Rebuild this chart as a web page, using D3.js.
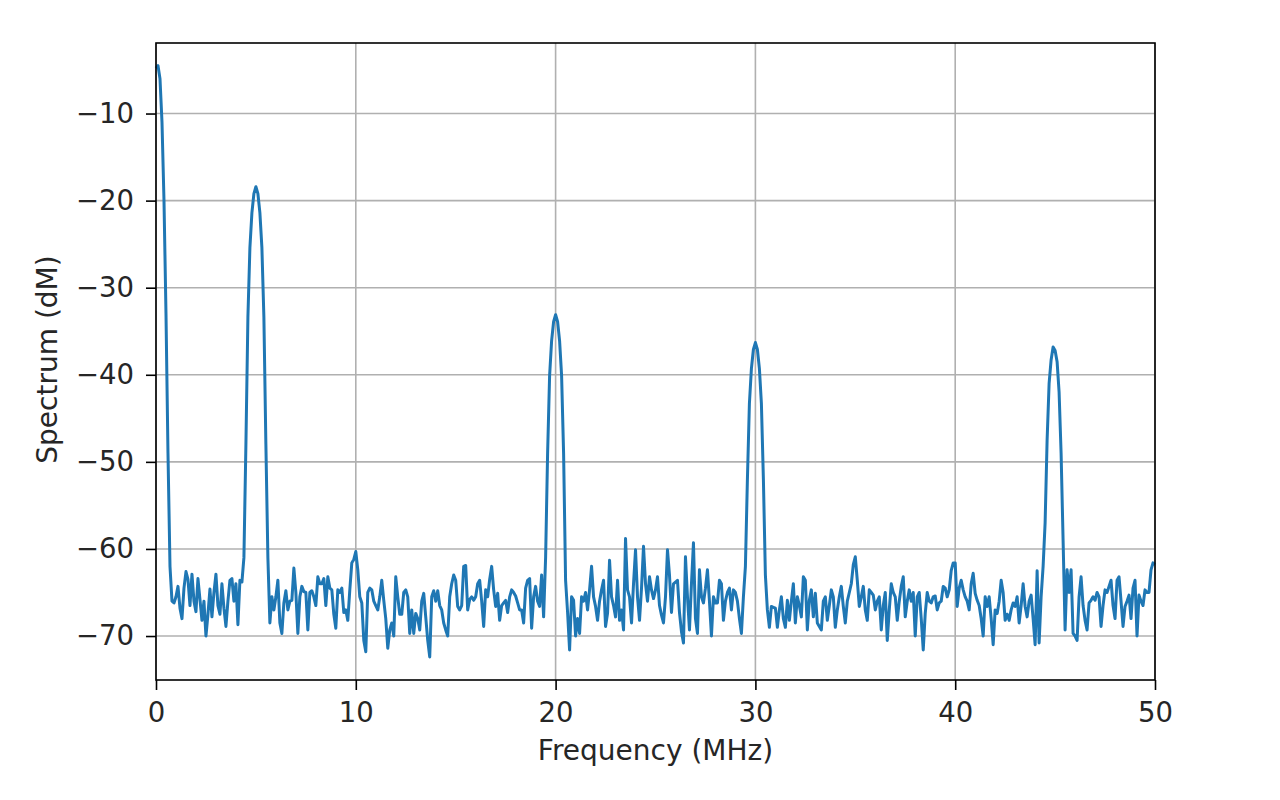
<!DOCTYPE html>
<html>
<head>
<meta charset="utf-8">
<script src="https://cdn.jsdelivr.net/npm/d3@7"></script>
<style>
  html, body { margin: 0; padding: 0; background: #ffffff; }
  svg { display: block; }
  text { font-family: "DejaVu Sans", sans-serif; fill: #262626; }
</style>
</head>
<body>
<svg id="chart" width="1280" height="800"></svg>
<script>
// Frequency grid (MHz): one sample every 0.1 MHz from 0 to 50
const freqStart = 0;
const freqStep = 0.1;

// Spectrum values (dM), rows of 1 MHz
const spectrum = [
  -4.8, -4.5, -6.0, -11.0, -20.0, -33.0, -49.0, -62.0, -66.0, -66.2,
  -65.5, -64.3, -66.8, -68.0, -64.5, -62.6, -63.5, -66.5, -62.9, -66.0,
  -67.2, -63.4, -65.8, -68.2, -66.0, -70.0, -67.5, -64.6, -67.8, -65.0,
  -62.9, -66.5, -67.5, -64.0, -66.8, -68.9, -66.0, -63.6, -63.4, -66.0,
  -64.0, -68.7, -63.6, -63.8, -61.0, -48.0, -33.4, -25.4, -21.4, -19.2,
  -18.4, -19.2, -21.4, -25.4, -33.4, -48.0, -61.0, -68.5, -65.5, -67.0,
  -65.5, -63.6, -68.5, -69.7, -66.2, -64.8, -67.0, -66.0, -65.9, -62.2,
  -65.0, -69.7, -65.5, -64.3, -64.9, -65.0, -69.3, -65.0, -64.8, -65.5,
  -66.5, -63.2, -64.0, -64.0, -63.4, -66.5, -63.2, -64.5, -64.7, -67.5,
  -69.1, -64.7, -65.0, -64.5, -67.3, -67.0, -68.2, -64.7, -61.6, -61.2,
  -60.3, -62.4, -65.5, -66.2, -70.5, -71.8, -65.0, -64.5, -64.7, -66.0,
  -66.5, -67.0, -65.5, -63.6, -65.9, -68.0, -71.4, -69.3, -68.5, -70.0,
  -63.2, -65.5, -67.5, -67.5, -65.0, -64.7, -65.5, -69.7, -67.0, -69.7,
  -67.4, -68.0, -69.3, -66.0, -65.1, -67.8, -70.5, -72.4, -65.5, -64.8,
  -66.0, -64.8, -66.5, -67.0, -68.5, -69.3, -70.0, -65.5, -64.0, -63.0,
  -63.6, -66.6, -67.0, -66.5, -62.0, -61.9, -67.0, -65.8, -65.5, -65.9,
  -65.5, -64.0, -63.6, -66.0, -68.9, -64.7, -65.5, -63.5, -62.0, -64.7,
  -66.6, -65.1, -68.2, -66.5, -66.2, -65.9, -67.3, -65.5, -64.7, -65.0,
  -65.4, -66.2, -67.0, -67.0, -68.5, -64.5, -63.6, -63.4, -69.1, -65.5,
  -64.3, -66.0, -66.6, -63.0, -67.8, -61.0, -49.0, -40.1, -36.1, -33.9,
  -33.1, -33.9, -36.1, -40.1, -49.0, -63.6, -67.3, -71.6, -65.5, -65.9,
  -70.0, -68.0, -69.7, -65.5, -66.0, -65.0, -67.0, -64.7, -62.0, -65.5,
  -66.6, -68.2, -66.0, -64.7, -63.6, -68.9, -67.4, -61.3, -65.5, -66.5,
  -67.8, -63.6, -68.2, -67.0, -69.3, -58.8, -64.7, -65.5, -68.5, -64.0,
  -60.1, -65.5, -68.2, -64.5, -59.7, -64.0, -66.0, -63.2, -64.7, -65.7,
  -64.7, -63.2, -66.5, -67.6, -68.5, -65.5, -60.1, -63.0, -67.3, -64.0,
  -63.8, -63.6, -67.3, -69.5, -70.8, -60.9, -65.5, -69.3, -64.0, -59.3,
  -68.0, -69.7, -62.4, -65.5, -66.2, -64.5, -62.4, -66.0, -70.0, -65.5,
  -66.2, -66.2, -63.6, -64.0, -68.2, -66.0, -65.0, -64.5, -67.0, -64.7,
  -65.0, -66.0, -68.0, -69.7, -65.5, -62.0, -52.0, -43.3, -39.3, -37.1,
  -36.3, -37.1, -39.3, -43.3, -52.0, -63.0, -67.0, -69.0, -66.6, -66.7,
  -66.8, -69.0, -67.0, -65.5, -68.0, -69.0, -65.9, -68.2, -66.0, -64.0,
  -68.5, -65.5, -66.5, -67.8, -63.2, -63.6, -69.3, -65.9, -64.7, -67.8,
  -65.1, -68.5, -68.9, -69.3, -66.0, -65.5, -68.2, -66.5, -64.7, -65.5,
  -69.0, -67.0, -65.5, -64.3, -66.6, -68.5, -66.0, -65.0, -64.0, -61.8,
  -60.9, -63.6, -66.6, -65.5, -64.3, -67.0, -68.2, -64.7, -65.0, -65.3,
  -67.0, -66.0, -65.5, -69.3, -66.5, -65.0, -70.5, -67.0, -64.0, -65.0,
  -65.5, -68.2, -66.0, -64.3, -63.2, -67.8, -66.0, -64.7, -66.0, -65.0,
  -70.0, -65.5, -65.0, -68.0, -71.6, -67.4, -65.0, -66.0, -66.2, -65.5,
  -65.4, -67.0, -66.2, -66.0, -64.3, -64.5, -65.5, -64.7, -62.5, -61.6,
  -61.6, -66.6, -64.5, -63.6, -64.7, -65.5, -66.0, -67.0, -64.0, -62.8,
  -65.1, -65.9, -66.5, -68.0, -70.0, -65.5, -66.6, -65.5, -68.0, -71.0,
  -67.0, -67.4, -66.0, -63.6, -65.0, -68.2, -67.5, -68.2, -67.0, -66.2,
  -66.6, -65.5, -68.5, -66.5, -64.0, -66.6, -67.8, -66.0, -65.3, -68.0,
  -71.0, -62.5, -70.8, -65.5, -62.0, -57.0, -47.5, -41.0, -38.3, -36.8,
  -37.2, -38.5, -42.0, -49.0, -59.0, -69.3, -62.4, -65.0, -62.4, -69.7,
  -70.0, -70.5, -65.5, -63.2, -66.5, -68.2, -69.3, -66.2, -65.9, -65.5,
  -65.9, -65.0, -65.5, -68.9, -66.5, -64.7, -65.0, -64.3, -63.6, -66.5,
  -68.0, -63.6, -63.2, -66.0, -68.9, -66.6, -66.0, -65.3, -68.0, -64.5,
  -63.6, -70.0, -65.3, -66.0, -66.5, -64.7, -65.0, -65.0, -62.4, -61.6,
  -61.8
];

// Axis ticks and labels
const xTicks = [0, 10, 20, 30, 40, 50];
const yTicks = [-70, -60, -50, -40, -30, -20, -10];
const xDomain = [0, 50];
const yDomain = [-75.05, -1.9];
const xLabel = "Frequency (MHz)";
const yLabel = "Spectrum (dM)";

const points = spectrum.map((v, i) => ({ f: freqStart + i * freqStep, v: v }));

const margin = { left: 156, right: 125, top: 43, bottom: 120 };
const W = 1280, H = 800;
const pw = W - margin.left - margin.right;   // 999
const ph = H - margin.top - margin.bottom;   // 637

const svg = d3.select("#chart");
const g = svg.append("g").attr("transform", `translate(${margin.left},${margin.top})`);

const x = d3.scaleLinear().domain(xDomain).range([0, pw]);
const y = d3.scaleLinear().domain(yDomain).range([ph, 0]);

// Grid
g.append("g").selectAll("line").data(xTicks).join("line")
  .attr("x1", d => x(d)).attr("x2", d => x(d))
  .attr("y1", 0).attr("y2", ph)
  .attr("stroke", "#b0b0b0").attr("stroke-width", 1.6);
g.append("g").selectAll("line").data(yTicks).join("line")
  .attr("x1", 0).attr("x2", pw)
  .attr("y1", d => y(d)).attr("y2", d => y(d))
  .attr("stroke", "#b0b0b0").attr("stroke-width", 1.6);

// Data line
const line = d3.line().x(d => x(d.f)).y(d => y(d.v));
g.append("path").datum(points)
  .attr("d", line)
  .attr("fill", "none")
  .attr("stroke", "#1f77b4")
  .attr("stroke-width", 3)
  .attr("stroke-linejoin", "round");

// Frame
g.append("rect").attr("x", 0).attr("y", 0).attr("width", pw).attr("height", ph)
  .attr("fill", "none").attr("stroke", "#000").attr("stroke-width", 1.6);

// Axes
const fmt = d => (d < 0 ? "\u2212" + Math.abs(d) : String(d));
const xAxis = g.append("g").attr("transform", `translate(0,${ph})`)
  .call(d3.axisBottom(x).tickValues(xTicks).tickFormat(fmt).tickSize(10).tickPadding(12));
const yAxis = g.append("g")
  .call(d3.axisLeft(y).tickValues(yTicks).tickFormat(fmt).tickSize(10).tickPadding(12));
[xAxis, yAxis].forEach(a => {
  a.select(".domain").remove();
  a.selectAll(".tick line").attr("stroke", "#000").attr("stroke-width", 1.6);
  a.selectAll(".tick text").style("font-family", "DejaVu Sans, sans-serif")
    .style("font-size", "27.5px").attr("fill", "#262626");
});

// Axis labels
svg.append("text")
  .attr("x", margin.left + pw / 2).attr("y", 760)
  .attr("text-anchor", "middle")
  .style("font-size", "28px")
  .text(xLabel);
svg.append("text")
  .attr("transform", `translate(57,${margin.top + ph / 2 - 2}) rotate(-90)`)
  .attr("text-anchor", "middle")
  .style("font-size", "28px")
  .text(yLabel);
</script>
</body>
</html>
